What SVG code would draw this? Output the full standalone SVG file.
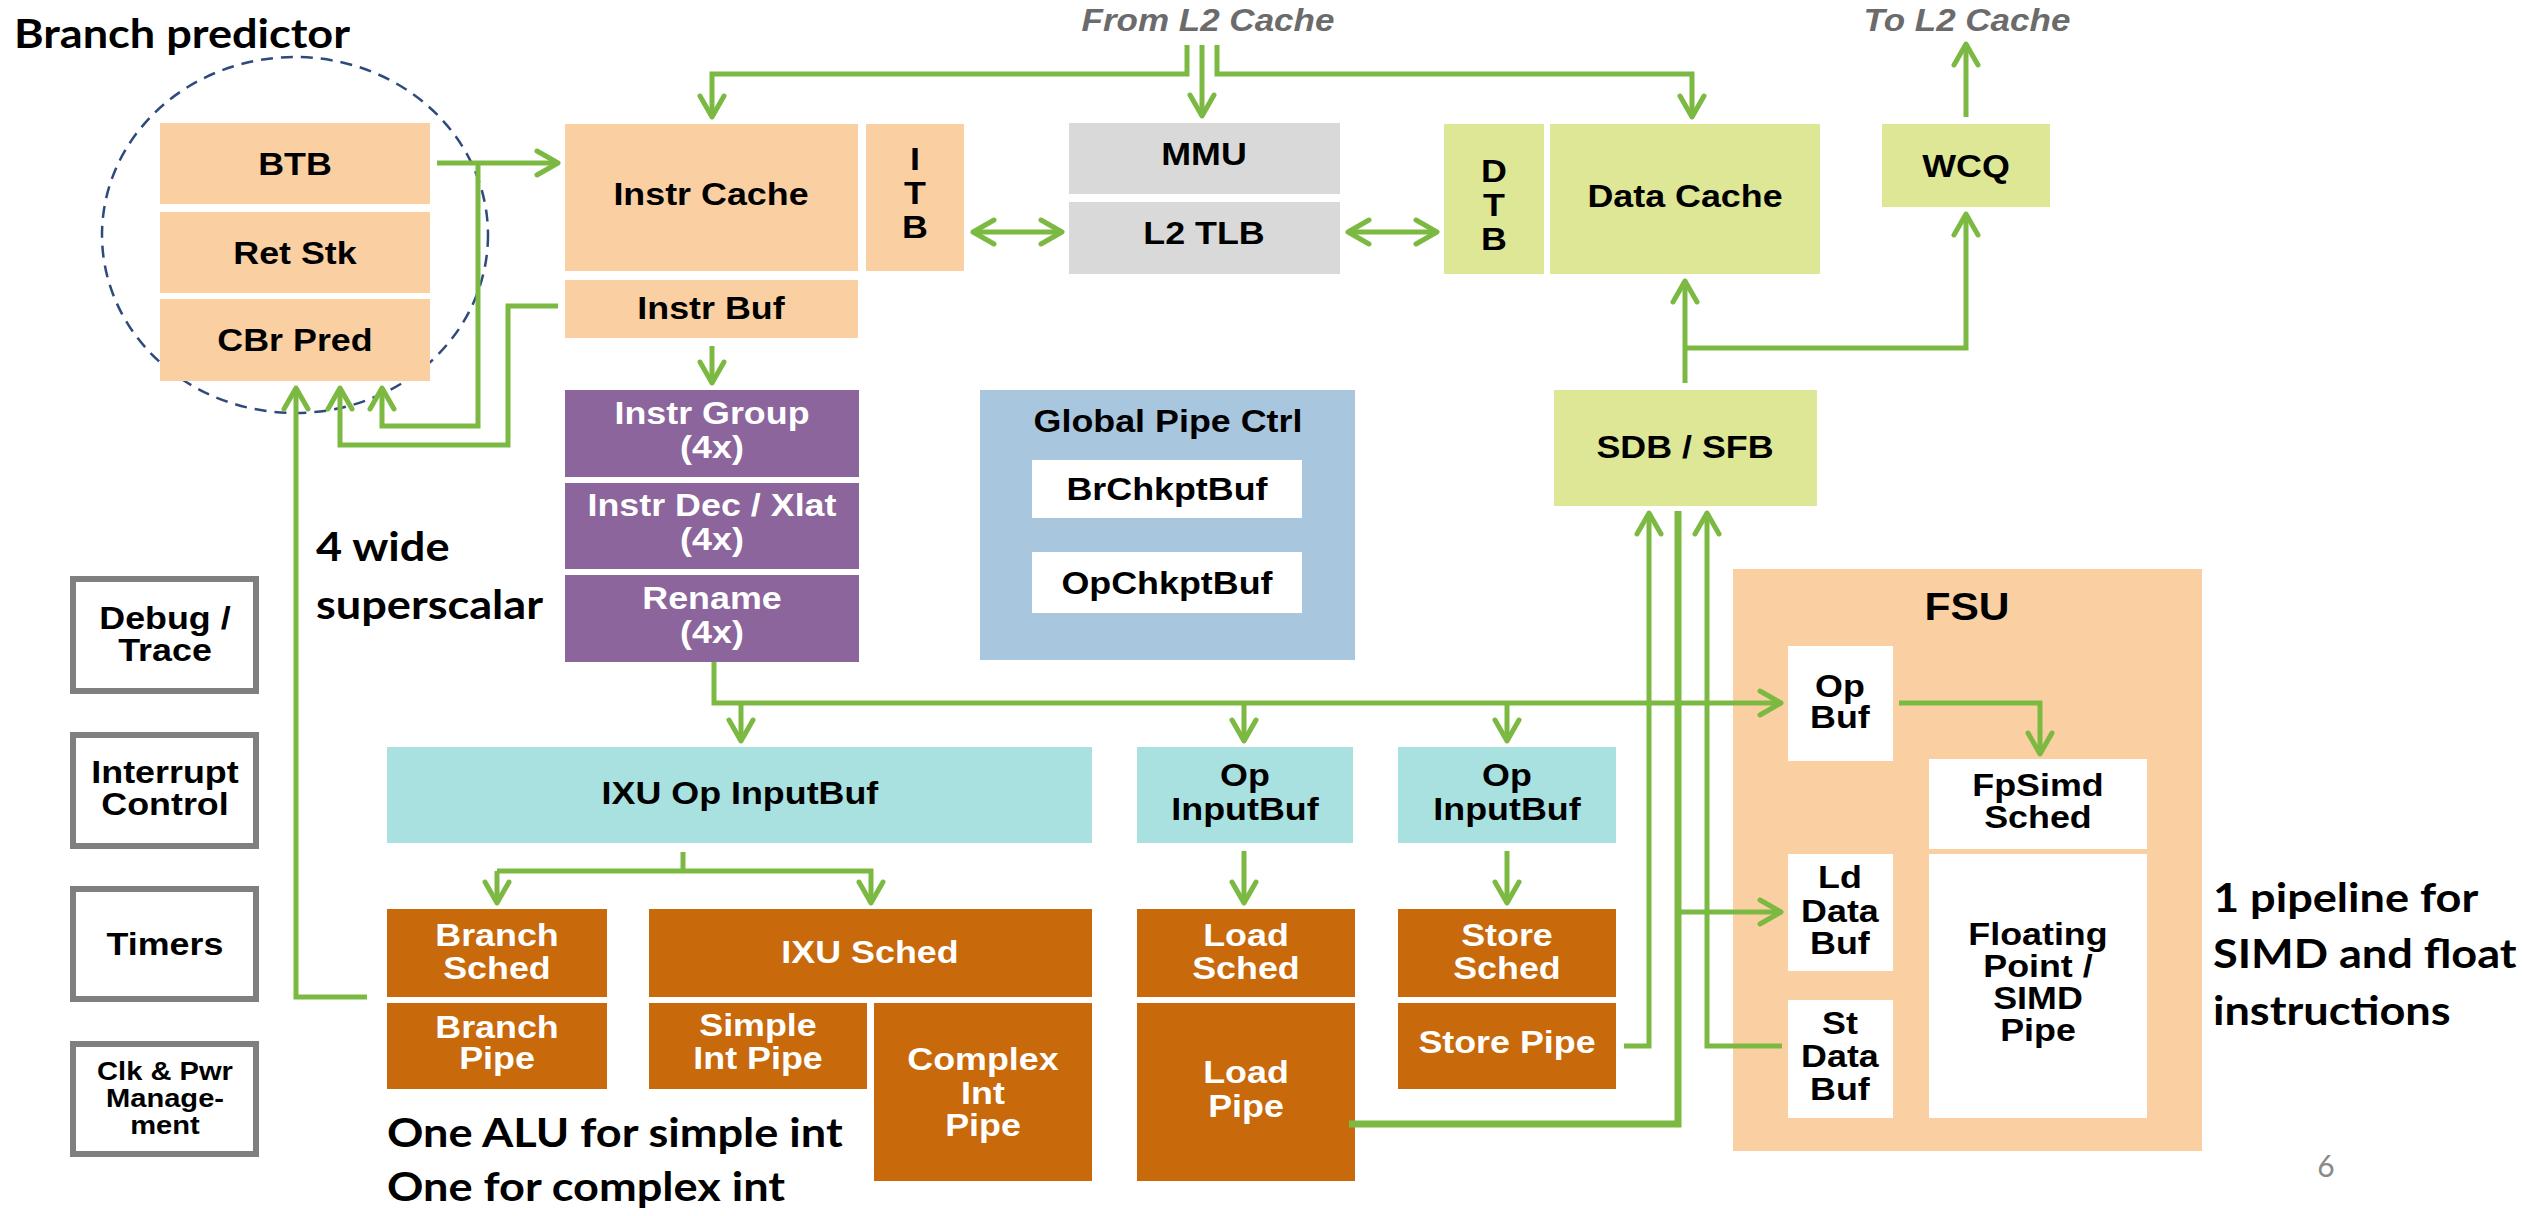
<svg xmlns="http://www.w3.org/2000/svg" width="2522" height="1216" viewBox="0 0 2522 1216">
<defs>
<marker id="ah" viewBox="-26 -16 30 32" refX="0" refY="0" markerWidth="30" markerHeight="32" markerUnits="userSpaceOnUse" orient="auto-start-reverse">
<path d="M -21,-12 L 0,0 L -21,12" fill="none" stroke="#7CB943" stroke-width="5" stroke-linecap="round" stroke-linejoin="round"/>
</marker>
</defs>
<style>
.pe{fill:#FAD0A3}
.gy{fill:#D9D9D9}
.lg{fill:#DDE796}
.pu{fill:#8B659B}
.te{fill:#A8E1DF}
.or{fill:#C8690B}
.bl{fill:#A9C6DF}
.wh{fill:#FFFFFF}
.ob{fill:#FFFFFF;stroke:#7F7F7F;stroke-width:6}
.t{font-family:"Liberation Sans",Arial,sans-serif;font-weight:bold;font-size:32px;text-anchor:middle;fill:#000;transform-box:fill-box;transform-origin:center;transform:scaleX(1.12)}
.w{fill:#FFFFFF}
.s{font-size:26px}
.n{font-family:Lato,"Open Sans",sans-serif;font-weight:bold;font-size:41px;fill:#000;transform-box:fill-box;transform-origin:0% 50%;transform:scaleX(1.1)}
.g{font-family:"Liberation Sans",Arial,sans-serif;font-weight:bold;font-style:italic;font-size:31px;text-anchor:middle;fill:#6B6B6B;transform-box:fill-box;transform-origin:center;transform:scaleX(1.13)}
.c{fill:none;stroke:#7CB943;stroke-width:5;stroke-linejoin:miter}
.a{marker-end:url(#ah)}
.d{marker-start:url(#ah);marker-end:url(#ah)}
</style>

<text class="n" x="14" y="48">Branch predictor</text>
<text class="g" x="1208" y="31">From L2 Cache</text>
<text class="g" x="1967" y="31">To L2 Cache</text>
<text class="n" x="316" y="561">4 wide</text>
<text class="n" x="316" y="619">superscalar</text>
<text class="n" x="387" y="1147">One ALU for simple int</text>
<text class="n" x="387" y="1201">One for complex int</text>
<text class="n" x="2213" y="912">1 pipeline for</text>
<text class="n" x="2213" y="968">SIMD and float</text>
<text class="n" x="2213" y="1025">instructions</text>
<text x="2326" y="1177" style="font-family:Lato,sans-serif;font-size:30px;fill:#8A8A8A;text-anchor:middle">6</text>

<g id="branch-predictor">
<ellipse cx="295" cy="235" rx="193" ry="178" fill="none" stroke="#2E4A7D" stroke-width="2.5" stroke-dasharray="12 8"/>
</g>
<g id="btb"><rect class="pe" x="160" y="123" width="270" height="81"/><text class="t" x="295" y="175">BTB</text></g>
<g id="retstk"><rect class="pe" x="160" y="212" width="270" height="81"/><text class="t" x="295" y="264">Ret Stk</text></g>
<g id="cbrpred"><rect class="pe" x="160" y="299" width="270" height="82"/><text class="t" x="295" y="351">CBr Pred</text></g>
<g id="icache"><rect class="pe" x="565" y="124" width="293" height="147"/><text class="t" x="711" y="205">Instr Cache</text></g>
<g id="itb"><rect class="pe" x="866" y="124" width="98" height="147"/><text class="t" x="915" y="170">I</text><text class="t" x="915" y="204">T</text><text class="t" x="915" y="238">B</text></g>
<g id="ibuf"><rect class="pe" x="565" y="280" width="293" height="58"/><text class="t" x="711" y="319">Instr Buf</text></g>
<g id="mmu"><rect class="gy" x="1069" y="123" width="271" height="71"/><text class="t" x="1204" y="165">MMU</text></g>
<g id="l2tlb"><rect class="gy" x="1069" y="202" width="271" height="72"/><text class="t" x="1204" y="244">L2 TLB</text></g>
<g id="dtb"><rect class="lg" x="1444" y="124" width="100" height="150"/><text class="t" x="1494" y="182">D</text><text class="t" x="1494" y="216">T</text><text class="t" x="1494" y="250">B</text></g>
<g id="dcache"><rect class="lg" x="1550" y="124" width="270" height="150"/><text class="t" x="1685" y="207">Data Cache</text></g>
<g id="wcq"><rect class="lg" x="1882" y="124" width="168" height="83"/><text class="t" x="1966" y="177">WCQ</text></g>
<g id="sdb"><rect class="lg" x="1554" y="390" width="263" height="116"/><text class="t" x="1685" y="458">SDB / SFB</text></g>
<g id="gpc"><rect class="bl" x="980" y="390" width="375" height="270"/><text class="t" x="1168" y="432">Global Pipe Ctrl</text>
<rect class="wh" x="1032" y="460" width="270" height="58"/><text class="t" x="1167" y="500">BrChkptBuf</text>
<rect class="wh" x="1032" y="552" width="270" height="61"/><text class="t" x="1167" y="594">OpChkptBuf</text></g>
<g id="igroup"><rect class="pu" x="565" y="390" width="294" height="87"/><text class="t w" x="712" y="424">Instr Group</text><text class="t w" x="712" y="458">(4x)</text></g>
<g id="idec"><rect class="pu" x="565" y="483" width="294" height="86"/><text class="t w" x="712" y="516">Instr Dec / Xlat</text><text class="t w" x="712" y="550">(4x)</text></g>
<g id="rename"><rect class="pu" x="565" y="575" width="294" height="87"/><text class="t w" x="712" y="609">Rename</text><text class="t w" x="712" y="643">(4x)</text></g>
<g id="debug"><rect class="ob" x="73" y="579" width="183" height="112"/><text class="t" x="165" y="629">Debug /</text><text class="t" x="165" y="661">Trace</text></g>
<g id="interrupt"><rect class="ob" x="73" y="735" width="183" height="111"/><text class="t" x="165" y="783">Interrupt</text><text class="t" x="165" y="815">Control</text></g>
<g id="timers"><rect class="ob" x="73" y="889" width="183" height="110"/><text class="t" x="165" y="955">Timers</text></g>
<g id="clkpwr"><rect class="ob" x="73" y="1044" width="183" height="110"/><text class="t s" x="165" y="1080">Clk &amp; Pwr</text><text class="t s" x="165" y="1107">Manage-</text><text class="t s" x="165" y="1134">ment</text></g>
<g id="ixu-inbuf"><rect class="te" x="387" y="747" width="705" height="96"/><text class="t" x="740" y="804">IXU Op InputBuf</text></g>
<g id="ld-inbuf"><rect class="te" x="1137" y="747" width="216" height="96"/><text class="t" x="1245" y="786">Op</text><text class="t" x="1245" y="820">InputBuf</text></g>
<g id="st-inbuf"><rect class="te" x="1398" y="747" width="218" height="96"/><text class="t" x="1507" y="786">Op</text><text class="t" x="1507" y="820">InputBuf</text></g>
<g id="br-sched"><rect class="or" x="387" y="909" width="220" height="88"/><text class="t w" x="497" y="946">Branch</text><text class="t w" x="497" y="979">Sched</text></g>
<g id="br-pipe"><rect class="or" x="387" y="1003" width="220" height="86"/><text class="t w" x="497" y="1038">Branch</text><text class="t w" x="497" y="1069">Pipe</text></g>
<g id="ixu-sched"><rect class="or" x="649" y="909" width="443" height="88"/><text class="t w" x="870" y="963">IXU Sched</text></g>
<g id="simple-int"><rect class="or" x="649" y="1003" width="218" height="86"/><text class="t w" x="758" y="1036">Simple</text><text class="t w" x="758" y="1069">Int Pipe</text></g>
<g id="complex-int"><rect class="or" x="874" y="1003" width="218" height="178"/><text class="t w" x="983" y="1070">Complex</text><text class="t w" x="983" y="1104">Int</text><text class="t w" x="983" y="1136">Pipe</text></g>
<g id="ld-sched"><rect class="or" x="1137" y="909" width="218" height="88"/><text class="t w" x="1246" y="946">Load</text><text class="t w" x="1246" y="979">Sched</text></g>
<g id="ld-pipe"><rect class="or" x="1137" y="1003" width="218" height="178"/><text class="t w" x="1246" y="1083">Load</text><text class="t w" x="1246" y="1117">Pipe</text></g>
<g id="st-sched"><rect class="or" x="1398" y="909" width="218" height="88"/><text class="t w" x="1507" y="946">Store</text><text class="t w" x="1507" y="979">Sched</text></g>
<g id="st-pipe"><rect class="or" x="1398" y="1003" width="218" height="86"/><text class="t w" x="1507" y="1053">Store Pipe</text></g>
<g id="fsu"><rect class="pe" x="1733" y="569" width="469" height="582"/><text class="t" x="1967" y="620" style="font-size:38px">FSU</text></g>
<g id="opbuf"><rect class="wh" x="1788" y="646" width="105" height="115"/><text class="t" x="1840" y="697">Op</text><text class="t" x="1840" y="728">Buf</text></g>
<g id="fpsched"><rect class="wh" x="1929" y="759" width="218" height="90"/><text class="t" x="2038" y="796">FpSimd</text><text class="t" x="2038" y="828">Sched</text></g>
<g id="fppipe"><rect class="wh" x="1929" y="854" width="218" height="264"/><text class="t" x="2038" y="945">Floating</text><text class="t" x="2038" y="977">Point /</text><text class="t" x="2038" y="1009">SIMD</text><text class="t" x="2038" y="1041">Pipe</text></g>
<g id="lddbuf"><rect class="wh" x="1788" y="854" width="105" height="117"/><text class="t" x="1840" y="888">Ld</text><text class="t" x="1840" y="922">Data</text><text class="t" x="1840" y="954">Buf</text></g>
<g id="stdbuf"><rect class="wh" x="1788" y="1000" width="105" height="118"/><text class="t" x="1840" y="1034">St</text><text class="t" x="1840" y="1067">Data</text><text class="t" x="1840" y="1100">Buf</text></g>

<g id="connectors">
<path class="c a" d="M1187,45 V74 H712 V117"/>
<path class="c a" d="M1202,45 V116"/>
<path class="c a" d="M1217,45 V74 H1692 V117"/>
<path class="c a" d="M1966,117 V44"/>
<path class="c a" d="M1685,383 V281"/>
<path class="c a" d="M1685,348 H1966 V214"/>
<path class="c d" d="M973,232 H1062"/>
<path class="c d" d="M1348,232 H1437"/>
<path class="c a" d="M437,163 H558"/>
<path class="c a" d="M478,163 V426 H382 V388"/>
<path class="c a" d="M558,306 H508 V445 H340 V388"/>
<path class="c a" d="M367,997 H296 V388"/>
<path class="c a" d="M712,346 V383"/>
<path class="c a" d="M714,662 V703 H1781"/>
<path class="c a" d="M741,703 V741"/>
<path class="c a" d="M1244,703 V741"/>
<path class="c a" d="M1507,703 V741"/>
<path class="c a" d="M1244,851 V903"/>
<path class="c a" d="M1507,851 V903"/>
<path class="c" d="M683,852 V871"/>
<path class="c a" d="M497,871 H871 V903"/>
<path class="c a" d="M497,871 V903"/>
<path class="c a" d="M1624,1046 H1649 V513"/>
<path class="c" style="stroke-width:7" d="M1349,1124 H1678 V511"/>
<path class="c a" d="M1678,912 H1781"/>
<path class="c a" d="M1782,1046 H1707 V513"/>
<path class="c a" d="M1899,703 H2040 V754"/>
</g>
</svg>
